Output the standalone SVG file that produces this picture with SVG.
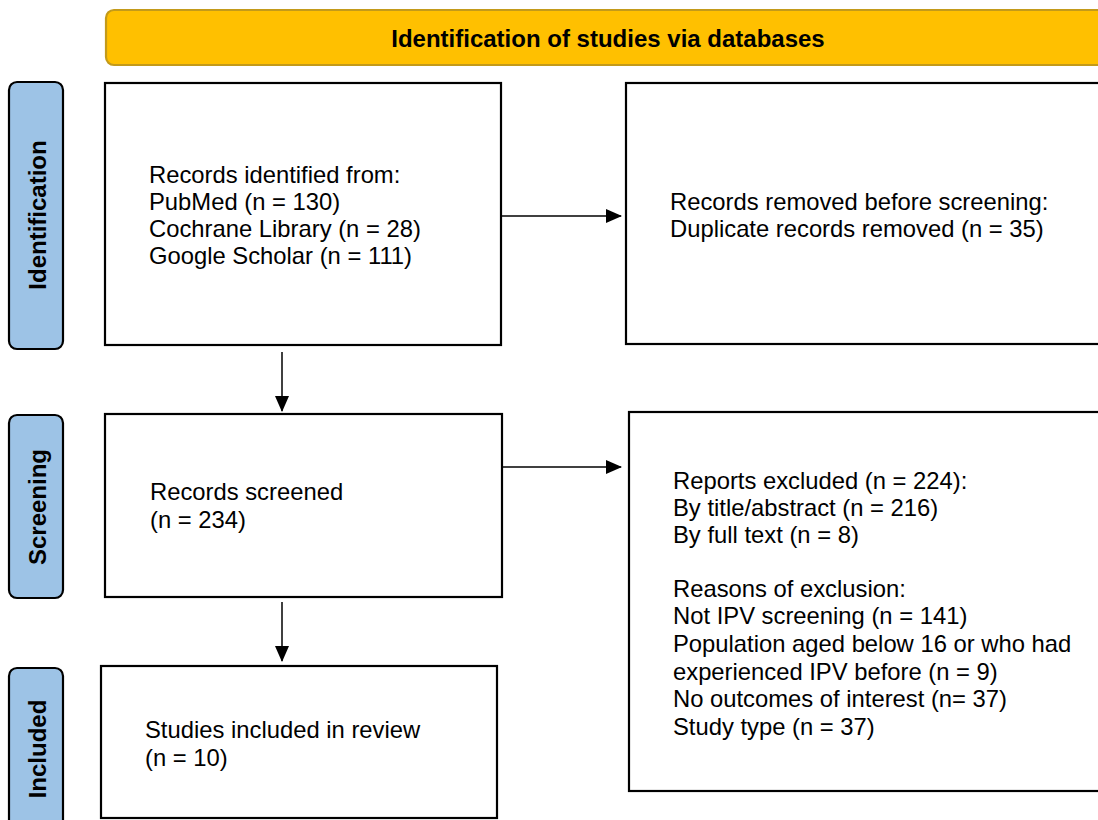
<svg xmlns="http://www.w3.org/2000/svg" width="1098" height="820" viewBox="0 0 1098 820">
<style>
.box{fill:#fff;stroke:#000;stroke-width:2.2}
.side{fill:#9DC3E6;stroke:#000;stroke-width:2.2}
.hdr{fill:#FFC000;stroke:#C39A1A;stroke-width:2.2}
.t{font-family:"Liberation Sans",Arial,sans-serif;font-size:23.8px;fill:#000}
.b{font-family:"Liberation Sans",Arial,sans-serif;font-size:24px;font-weight:bold;fill:#000}
.c{stroke:#000;stroke-width:1.5;fill:none}
</style>
<defs>
<marker id="ah" markerWidth="16" markerHeight="14" refX="15" refY="7" orient="auto" markerUnits="userSpaceOnUse">
<path d="M0,0 L16,7 L0,14 Z" fill="#000"/>
</marker>
</defs>
<rect width="1098" height="820" fill="#fff"/>
<g id="header">
<rect class="hdr" x="106" y="10" width="1020" height="55" rx="8"/>
<text class="b" x="608" y="47" text-anchor="middle">Identification of studies via databases</text>
</g>
<g id="side-identification">
<rect class="side" x="9" y="82" width="54" height="267" rx="8"/>
<text class="b" transform="translate(45.5,215) rotate(-90)" text-anchor="middle">Identification</text>
</g>
<g id="side-screening">
<rect class="side" x="9" y="415" width="54" height="183" rx="8"/>
<text class="b" transform="translate(45.5,507) rotate(-90)" text-anchor="middle">Screening</text>
</g>
<g id="side-included">
<rect class="side" x="9" y="668" width="54" height="180" rx="8"/>
<text class="b" transform="translate(45.5,749) rotate(-90)" text-anchor="middle">Included</text>
</g>
<g id="identified">
<rect class="box" x="105" y="83" width="396" height="262"/>
<text class="t" x="149" y="183">Records identified from:</text>
<text class="t" x="149" y="210">PubMed (n = 130)</text>
<text class="t" x="149" y="237">Cochrane Library (n = 28)</text>
<text class="t" x="149" y="264">Google Scholar (n = 111)</text>
</g>
<g id="removed">
<rect class="box" x="626" y="83" width="500" height="261"/>
<text class="t" x="670" y="210">Records removed before screening:</text>
<text class="t" x="670" y="237">Duplicate records removed (n = 35)</text>
</g>
<g id="screened">
<rect class="box" x="105" y="414" width="397" height="183"/>
<text class="t" x="150" y="500">Records screened</text>
<text class="t" x="150" y="528">(n = 234)</text>
</g>
<g id="excluded">
<rect class="box" x="629" y="412" width="500" height="379"/>
<text class="t" x="673" y="489">Reports excluded (n = 224):</text>
<text class="t" x="673" y="516">By title/abstract (n = 216)</text>
<text class="t" x="673" y="543">By full text (n = 8)</text>
<text class="t" x="673" y="597">Reasons of exclusion:</text>
<text class="t" x="673" y="624">Not IPV screening (n = 141)</text>
<text class="t" x="673" y="652">Population aged below 16 or who had</text>
<text class="t" x="673" y="680">experienced IPV before (n = 9)</text>
<text class="t" x="673" y="707">No outcomes of interest (n= 37)</text>
<text class="t" x="673" y="735">Study type (n = 37)</text>
</g>
<g id="included">
<rect class="box" x="101" y="666" width="396" height="152"/>
<text class="t" x="145" y="738">Studies included in review</text>
<text class="t" x="145" y="766">(n = 10)</text>
</g>
<g id="connectors">
<line class="c" x1="502" y1="216" x2="621" y2="216" marker-end="url(#ah)"/>
<line class="c" x1="502" y1="467" x2="621" y2="467" marker-end="url(#ah)"/>
<line class="c" x1="282" y1="352" x2="282" y2="411" marker-end="url(#ah)"/>
<line class="c" x1="282" y1="602" x2="282" y2="661" marker-end="url(#ah)"/>
</g>
</svg>
